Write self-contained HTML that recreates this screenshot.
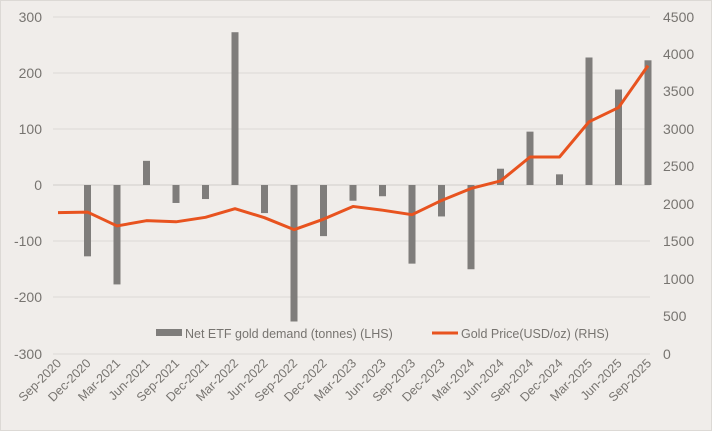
<!DOCTYPE html>
<html><head><style>
body{margin:0;background:#f0edea;}
svg{display:block;font-family:"Liberation Sans",sans-serif;}
</style></head><body>
<svg width="712" height="431" viewBox="0 0 712 431">
<rect x="0.5" y="0.5" width="711" height="430" fill="#f0edea" stroke="#dcd9d5"/>
<g stroke="#dcd9d5" stroke-width="1">
<line x1="53" x2="650" y1="17" y2="17"/>
<line x1="53" x2="650" y1="73" y2="73"/>
<line x1="53" x2="650" y1="129" y2="129"/>
<line x1="53" x2="650" y1="241" y2="241"/>
<line x1="53" x2="650" y1="297" y2="297"/>
<line x1="53" x2="650" y1="354" y2="354"/>
<line x1="53" x2="650" y1="185" y2="185" stroke="#d0cdc9"/>
</g>
<g fill="#777470" font-size="14" text-anchor="end">
<text x="42" y="22">300</text><text x="42" y="78">200</text><text x="42" y="134">100</text>
<text x="42" y="190">0</text><text x="42" y="246">-100</text><text x="42" y="302">-200</text><text x="42" y="359">-300</text>
</g>
<g fill="#777470" font-size="14" text-anchor="start">
<text x="663" y="22">4500</text><text x="663" y="59">4000</text><text x="663" y="96">3500</text>
<text x="663" y="134">3000</text><text x="663" y="171">2500</text><text x="663" y="209">2000</text>
<text x="663" y="246">1500</text><text x="663" y="284">1000</text><text x="663" y="321">500</text><text x="663" y="359">0</text>
</g>
<g fill="#7f7d7b" id="bars"></g>
<polyline id="line" fill="none" stroke="#e8531f" stroke-width="3" stroke-linejoin="round"/>
<g id="xl" fill="#777470" font-size="12.5" text-anchor="end"></g>
<rect x="156" y="329" width="26" height="7" fill="#7f7d7b"/>
<text x="185" y="338" font-size="12.5" fill="#777470">Net ETF gold demand (tonnes) (LHS)</text>
<line x1="432" x2="458" y1="333" y2="333" stroke="#e8531f" stroke-width="3"/>
<text x="461" y="338" font-size="12.5" fill="#777470">Gold Price(USD/oz) (RHS)</text>
</svg>
<script>
var labels=["Sep-2020","Dec-2020","Mar-2021","Jun-2021","Sep-2021","Dec-2021","Mar-2022","Jun-2022","Sep-2022","Dec-2022","Mar-2023","Jun-2023","Sep-2023","Dec-2023","Mar-2024","Jun-2024","Sep-2024","Dec-2024","Mar-2025","Jun-2025","Sep-2025"];
var bars=[0,-127,-177,43,-32,-25,272,-50,-243,-91,-28,-20,-140,-56,-150,29,95,19,227,170,222];
var gold=[1888,1895,1710,1780,1765,1825,1940,1820,1660,1800,1970,1920,1860,2050,2210,2310,2630,2630,3100,3290,3850];
var ns="http://www.w3.org/2000/svg",bg=document.getElementById("bars"),xl=document.getElementById("xl"),pts=[];
for(var i=0;i<21;i++){var x=58+29.5*i;
 if(bars[i]){var r=document.createElementNS(ns,"rect");var y=185-bars[i]*0.5617;
 r.setAttribute("x",x-3.5);r.setAttribute("width",7);r.setAttribute("y",Math.min(y,185));r.setAttribute("height",Math.abs(185-y));bg.appendChild(r);}
 pts.push(x+","+(354-gold[i]*0.0749));
 var t=document.createElementNS(ns,"text");t.setAttribute("transform","translate("+(x+4)+",364) rotate(-45)");t.textContent=labels[i];xl.appendChild(t);}
document.getElementById("line").setAttribute("points",pts.join(" "));
</script>
</body></html>
